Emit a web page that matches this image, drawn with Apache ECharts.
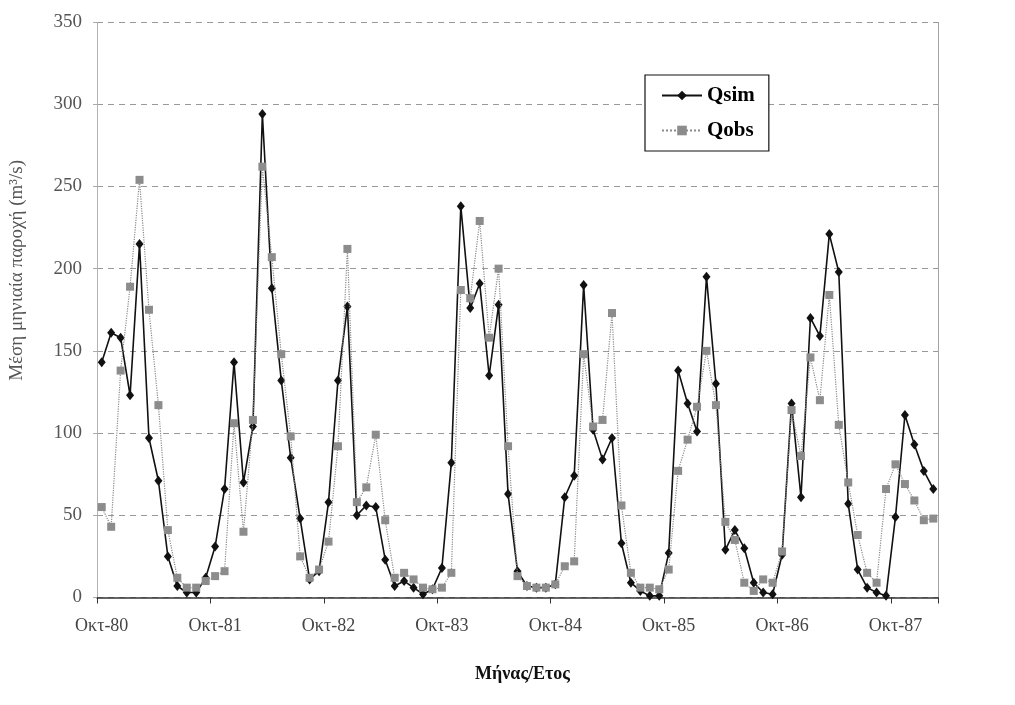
<!DOCTYPE html>
<html>
<head>
<meta charset="utf-8">
<script src="https://cdn.jsdelivr.net/npm/echarts@6/dist/echarts.min.js"></script>
<style>
html,body{margin:0;padding:0;background:#fff;}
#chart{width:1015px;height:705px;}
</style>
</head>
<body>
<div id="chart"></div>
<script>
// Month names (Greek) and years for category labels
const monthNames = ['Οκτ','Νοε','Δεκ','Ιαν','Φεβ','Μαρ','Απρ','Μαϊ','Ιουν','Ιουλ','Αυγ','Σεπ'];
const startYear = 80;
const monthCount = 89;

// Simulated mean monthly discharge (m3/s)
const qsim = [143,161,158,123,215,97,71,25,7,3,3,12,
              31,66,143,70,104,294,188,132,85,48,11,16,
              58,132,177,50,56,55,23,7,10,6,2,5,
              18,82,238,176,191,135,178,63,16,7,6,6,
              8,61,74,190,102,84,97,33,9,4,1,1,
              27,138,118,101,195,130,29,41,30,9,3,2,
              26,118,61,170,159,221,198,57,17,6,3,1,
              49,111,93,77,66];
// Observed mean monthly discharge (m3/s)
const qobs = [55,43,138,189,254,175,117,41,12,6,6,10,
              13,16,106,40,108,262,207,148,98,25,12,17,
              34,92,212,58,67,99,47,12,15,11,6,5,
              6,15,187,182,229,158,200,92,13,7,6,6,
              8,19,22,148,104,108,173,56,15,6,6,5,
              17,77,96,116,150,117,46,35,9,4,11,9,
              28,114,86,146,120,184,105,70,38,15,9,66,
              81,69,59,47,48];
const yTicks = [0,50,100,150,200,250,300,350];

const categories = [];
for (let i = 0; i < monthCount; i++) {
  const m = i % 12;
  const yr = startYear + Math.floor((i + 9) / 12);
  categories.push(monthNames[m] + '-' + String(yr % 100).padStart(2,'0'));
}

const serif = "'Liberation Serif','DejaVu Serif',serif";
const chart = echarts.init(document.getElementById('chart'), null, {renderer:'canvas'});
chart.setOption({
  backgroundColor:'#fff',
  animation:false,
  grid:{left:97, right:77, top:22, bottom:107.5, containLabel:false},
  legend:{
    orient:'vertical', left:645, top:75,
    backgroundColor:'#fff', borderColor:'#111', borderWidth:1.2,
    padding:[10,14,10,16], itemGap:14, itemWidth:40, itemHeight:12,
    textStyle:{fontFamily:serif, fontWeight:'bold', fontSize:21, color:'#000'},
    data:['Qsim','Qobs']
  },
  xAxis:{
    type:'category', data:categories, boundaryGap:true,
    axisLine:{show:true, lineStyle:{color:'#333', width:1.5}},
    axisTick:{show:true, interval:11, length:6, lineStyle:{color:'#333'}},
    axisLabel:{interval:11, margin:20, fontFamily:serif, fontSize:18, color:'#444'},
    splitLine:{show:false},
    name:'Μήνας/Ετος', nameLocation:'middle', nameGap:68,
    nameTextStyle:{fontFamily:serif, fontSize:18, fontWeight:'bold', color:'#111', padding:[0,0,0,10]}
  },
  yAxis:[{
    type:'value', min:yTicks[0], max:yTicks[yTicks.length-1], interval:50,
    axisLine:{show:true, lineStyle:{color:'#aaa', type:'dotted', width:1}},
    axisTick:{show:true, length:4, lineStyle:{color:'#aaa'}},
    axisLabel:{margin:15, fontFamily:serif, fontSize:19, color:'#555'},
    splitLine:{show:true, lineStyle:{color:'#999', type:[6,5], width:1}}
  },{
    type:'value', min:yTicks[0], max:yTicks[yTicks.length-1], interval:50, position:'right',
    axisLine:{show:true, lineStyle:{color:'#999', type:'dotted', width:1}},
    axisTick:{show:false}, axisLabel:{show:false}, splitLine:{show:false}
  }],
  graphic:[{
    type:'text', left:8, top:160,
    rotation:Math.PI/2, originX:0, originY:0,
    style:{text:'Μέση μηνιαία παροχή (m³/s)', font:"19px 'Liberation Serif'", fill:'#555'}
  }],
  series:[{
    name:'Qsim', type:'line', data:qsim,
    symbol:'diamond', symbolSize:[8,10], showSymbol:true, showAllSymbol:true,
    lineStyle:{color:'#111', width:1.6},
    itemStyle:{color:'#111'}, z:3
  },{
    name:'Qobs', type:'line', data:qobs,
    symbol:'rect', symbolSize:8, showSymbol:true, showAllSymbol:true,
    lineStyle:{color:'#8a8a8a', width:1.2, type:'dotted'},
    itemStyle:{color:'#8c8c8c'}, z:4
  }]
});
</script>
</body>
</html>
